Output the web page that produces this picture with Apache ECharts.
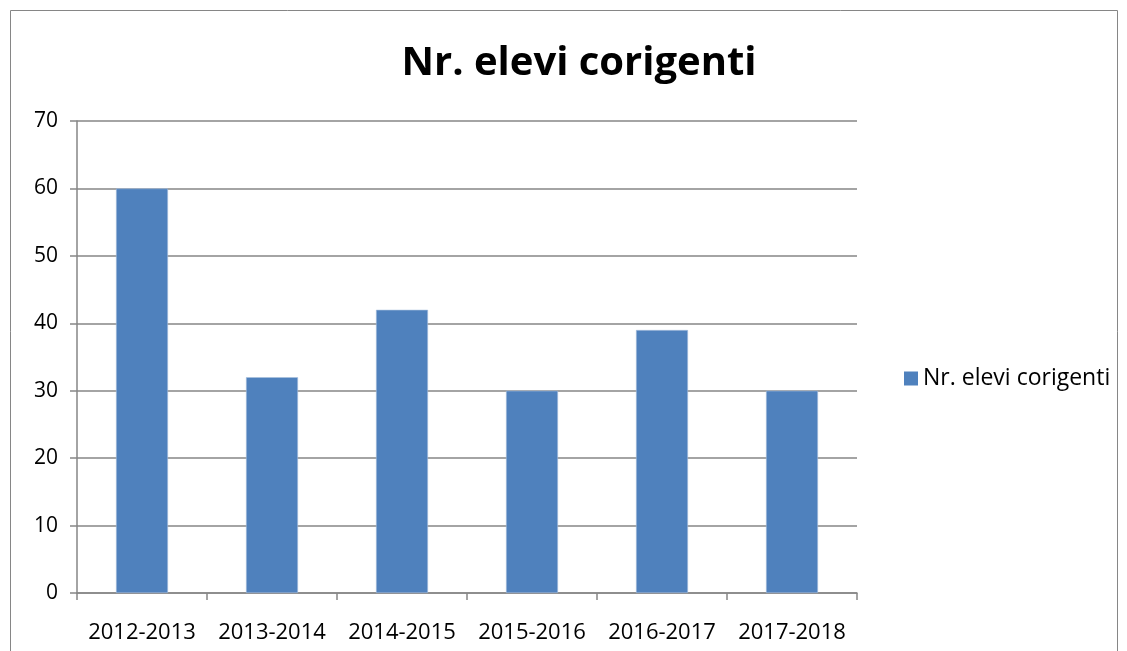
<!DOCTYPE html>
<html>
<head>
    <meta charset="utf-8">
    <title>Nr. elevi corigenti</title>
    <script src="https://cdn.jsdelivr.net/npm/echarts@6/dist/echarts.min.js"></script>
    <style>
        html, body { margin: 0; padding: 0; background: #fff; }
    </style>
</head>
<body>

<div id='bar' style="width: 1127px; height: 651px;"></div>
<script type="text/javascript">
    var years = ['2012-2013', '2013-2014', '2014-2015', '2015-2016', '2016-2017', '2017-2018'];
    var corigenti = [60, 32, 42, 30, 39, 30];
    var yTicks = [0, 10, 20, 30, 40, 50, 60, 70];

    var myBar = echarts.init(document.getElementById('bar'));
    var font = 'Open Sans';
    var barOption = {
        animation: false,
        textStyle: { fontFamily: font },
        graphic: [{
            type: 'rect',
            shape: { x: 10.5, y: 10.5, width: 1107, height: 660 },
            style: { fill: 'none', stroke: '#868686', lineWidth: 1 }
        }],
        title : {
            text : 'Nr. elevi corigenti',
            left : 574,
            textAlign : 'center',
            top : 39,
            textStyle : { fontSize: 40, fontWeight: 'bold', color: '#000', fontFamily: font }
        },
        legend : {
            data : [{ name: 'Nr. elevi corigenti', icon: 'rect', itemStyle: { borderWidth: 0 } }],
            orient : 'vertical',
            left : 899,
            top : 362,
            itemWidth : 14,
            itemHeight : 14,
            itemGap : 8,
            textStyle : { fontSize: 23, color: '#000', fontFamily: font }
        },
        grid : {
            left : 77,
            top : 121,
            width : 780,
            height : 472
        },
        xAxis : [ {
            type : 'category',
            data : years,
            axisLine : { lineStyle: { color: '#868686', width: 1.5 } },
            axisTick : { show: true, length: 7, lineStyle: { color: '#868686', width: 1.5 } },
            axisLabel : { color: '#000', fontSize: 22, margin: 29, interval: 0, fontFamily: font }
        } ],
        yAxis : [ {
            type : 'value',
            min : yTicks[0],
            max : yTicks[yTicks.length - 1],
            interval : 10,
            axisLine : { show: true, lineStyle: { color: '#868686', width: 1.5 } },
            axisTick : { show: true, length: 7, lineStyle: { color: '#868686', width: 1.5 } },
            axisLabel : { color: '#000', fontSize: 21, margin: 19, fontFamily: font },
            splitLine : { show: true, lineStyle: { color: '#868686', width: 1.5 } }
        } ],
        series : [ {
            name : 'Nr. elevi corigenti',
            type : 'bar',
            data : corigenti,
            barWidth : '40%',
            itemStyle : { color: '#4F81BD', borderColor: '#A7BFDE', borderWidth: 0.6 }
        } ]
    };
    myBar.setOption(barOption);
</script>
</body>
</html>
